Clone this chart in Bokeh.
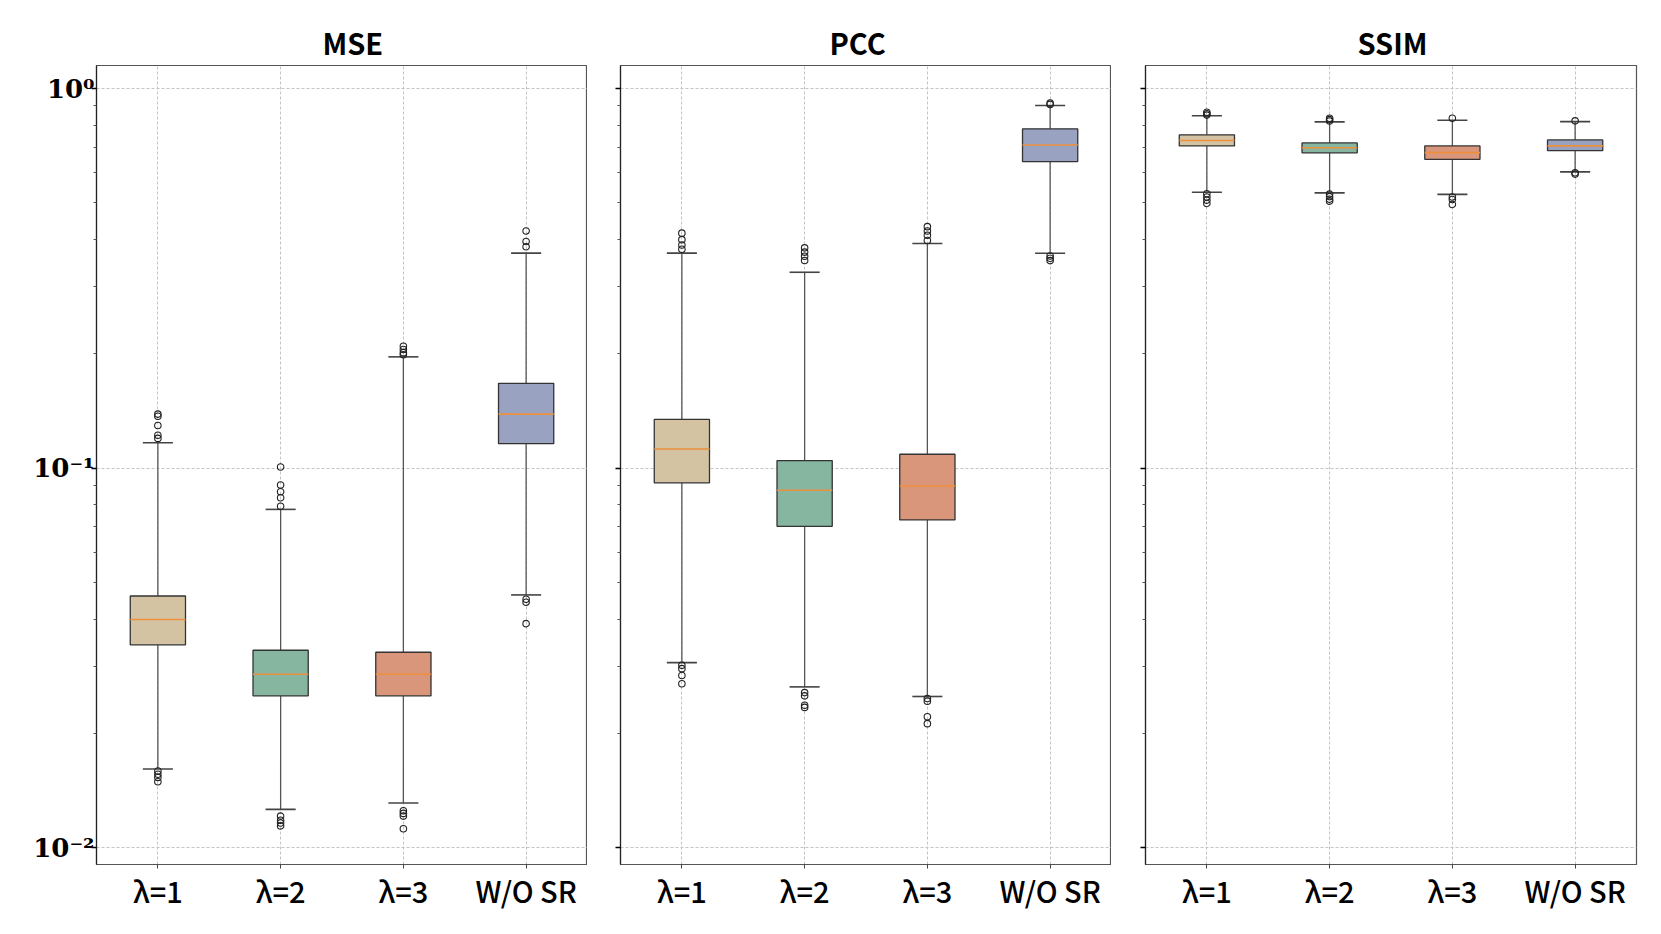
from bokeh.plotting import figure
from bokeh.layouts import row
from bokeh.models import Range1d, FixedTicker, CustomJSTickFormatter, ColumnDataSource
from bokeh.embed import file_html
from bokeh.resources import INLINE

# ---------------- data ----------------
categories = ["λ=1", "λ=2", "λ=3", "W/O SR"]
metrics = ["MSE", "PCC", "SSIM"]
box_colors = ["#d4c3a3", "#86b5a0", "#d9967a", "#99a2c0"]

y_major = [0.01, 0.1, 1.0]
y_minor = [0.02, 0.03, 0.04, 0.05, 0.06, 0.07, 0.08, 0.09,
           0.2, 0.3, 0.4, 0.5, 0.6, 0.7, 0.8, 0.9]

mse_q1 = [0.0342, 0.0251, 0.0251, 0.1159]
mse_med = [0.0399, 0.0286, 0.0286, 0.1387]
mse_q3 = [0.0460, 0.0331, 0.0327, 0.1672]
mse_lo = [0.0161, 0.0126, 0.0131, 0.0463]
mse_hi = [0.1166, 0.0778, 0.1963, 0.3683]
mse_out = [[0.1387, 0.1369, 0.1294, 0.1220, 0.1197, 0.0159, 0.0156, 0.0153, 0.0149],
           [0.1006, 0.0902, 0.0866, 0.0835, 0.0793, 0.0121, 0.0118, 0.0116, 0.0114],
           [0.2094, 0.2053, 0.2014, 0.1988, 0.0125, 0.0123, 0.0121, 0.0112],
           [0.4214, 0.3953, 0.3828, 0.0451, 0.0443, 0.0389]]

pcc_q1 = [0.0914, 0.0702, 0.0730, 0.642]
pcc_med = [0.1122, 0.0874, 0.0897, 0.710]
pcc_q3 = [0.1343, 0.1046, 0.1087, 0.783]
pcc_lo = [0.0307, 0.0265, 0.0250, 0.368]
pcc_hi = [0.3683, 0.3280, 0.3905, 0.902]
pcc_out = [[0.4158, 0.3998, 0.3870, 0.3770, 0.0302, 0.0296, 0.0284, 0.0270],
           [0.3804, 0.3707, 0.3613, 0.3521, 0.0256, 0.0251, 0.0237, 0.0234],
           [0.4325, 0.4214, 0.4106, 0.3976, 0.0247, 0.0243, 0.0221, 0.0212],
           [0.915, 0.908, 0.362, 0.357, 0.352]]

ssim_q1 = [0.706, 0.677, 0.651, 0.686]
ssim_med = [0.7295, 0.698, 0.678, 0.706]
ssim_q3 = [0.755, 0.719, 0.706, 0.732]
ssim_lo = [0.533, 0.531, 0.526, 0.603]
ssim_hi = [0.848, 0.817, 0.825, 0.818]
ssim_out = [[0.866, 0.858, 0.851, 0.528, 0.518, 0.508, 0.498],
            [0.835, 0.828, 0.821, 0.527, 0.519, 0.511, 0.505],
            [0.835, 0.518, 0.510, 0.495],
            [0.822, 0.600, 0.595]]

# ---------------- styling ----------------
BOX_W = 0.45
CAP_W = 0.245
GRID_COLOR = "#c4c4c4"
FRAME_W = 491
FRAME_H = 799
LABEL_FONT = "'Noto Sans CJK SC Medium', 'Noto Sans CJK SC'"

sup = CustomJSTickFormatter(code="""
const e = Math.round(Math.log10(tick));
const m = {'0':'\u2070','1':'\u00b9','2':'\u00b2','3':'\u00b3','-':'\u207b'};
return '10' + String(e).split('').map(c => m[c]).join('');
""")
blank = CustomJSTickFormatter(code="return '';")
cat_fmt = CustomJSTickFormatter(args=dict(labels=categories),
                                code="return labels[Math.round(tick) - 1];")


def make_panel(title, q1, med, q3, lo, hi, out, first, min_left, min_right, title_offset):
    p = figure(frame_width=FRAME_W, frame_height=FRAME_H,
               x_range=Range1d(0.5, 4.5), y_range=Range1d(0.00902, 1.15),
               y_axis_type="log", output_backend="svg", toolbar_location=None,
               min_border_left=min_left, min_border_right=min_right,
               min_border_top=65, min_border_bottom=48,
               background_fill_color="white", border_fill_color="white")
    p.title.text = title
    p.title.align = "left"
    p.title.offset = title_offset
    p.title.text_font = "Noto Sans CJK SC"
    p.title.text_font_size = "29px"
    p.title.text_font_style = "bold"
    p.title.text_color = "black"
    p.title.standoff = 6

    p.outline_line_color = "#555555"
    p.outline_line_width = 1.2

    pos = [i + 1 for i in range(len(categories))]
    src = ColumnDataSource(dict(
        x=pos, q1=q1, med=med, q3=q3, lo=lo, hi=hi, color=box_colors,
        xl=[x - BOX_W / 2 for x in pos], xr=[x + BOX_W / 2 for x in pos],
        cl=[x - CAP_W / 2 for x in pos], cr=[x + CAP_W / 2 for x in pos]))

    # whiskers
    p.segment(x0="x", x1="x", y0="q3", y1="hi", source=src, line_color="#555555", line_width=1.3)
    p.segment(x0="x", x1="x", y0="q1", y1="lo", source=src, line_color="#555555", line_width=1.3)
    # caps
    p.segment(x0="cl", x1="cr", y0="hi", y1="hi", source=src, line_color="#444444", line_width=1.6)
    p.segment(x0="cl", x1="cr", y0="lo", y1="lo", source=src, line_color="#444444", line_width=1.6)
    # boxes
    p.vbar(x="x", width=BOX_W, top="q3", bottom="q1", source=src,
           fill_color="color", line_color="#333333", line_width=1.3)
    # medians
    p.segment(x0="xl", x1="xr", y0="med", y1="med", source=src, line_color="#ee8f3d", line_width=1.6)
    # outliers
    ox, oy = [], []
    for i, vals in enumerate(out):
        for v in vals:
            ox.append(pos[i])
            oy.append(v)
    p.scatter(x=ox, y=oy, marker="circle", size=6.5, fill_color=None,
              line_color="#222222", line_width=1.1)

    # axes
    p.xaxis.ticker = FixedTicker(ticks=pos)
    p.xaxis.formatter = cat_fmt
    p.xaxis.major_label_text_font = LABEL_FONT
    p.xaxis.major_label_text_font_size = "29px"
    p.xaxis.major_label_text_color = "black"
    p.xaxis.major_label_standoff = 0
    p.xaxis.major_tick_out = 4
    p.xaxis.major_tick_in = 0
    p.xaxis.minor_tick_line_color = None
    p.xaxis.axis_line_color = "#555555"
    p.xaxis.major_tick_line_color = "#444444"

    p.yaxis.ticker = FixedTicker(ticks=y_major, minor_ticks=y_minor)
    p.yaxis.formatter = sup if first else blank
    p.yaxis.major_label_text_font = "DejaVu Serif"
    p.yaxis.major_label_text_font_style = "bold"
    p.yaxis.major_label_text_font_size = "26px"
    p.yaxis.major_label_text_color = "black"
    p.yaxis.major_label_standoff = -3
    p.yaxis.major_tick_out = 5
    p.yaxis.major_tick_in = 0
    p.yaxis.major_tick_line_width = 1.5
    p.yaxis.minor_tick_out = 3
    p.yaxis.minor_tick_in = 0
    p.yaxis.minor_tick_line_color = "#555555"
    p.yaxis.axis_line_color = "#222222"
    p.yaxis.axis_line_width = 1.2

    p.xgrid.grid_line_color = GRID_COLOR
    p.xgrid.grid_line_dash = "3 2"
    p.ygrid.grid_line_color = GRID_COLOR
    p.ygrid.grid_line_dash = "3 2"
    return p


p1 = make_panel(metrics[0], mse_q1, mse_med, mse_q3, mse_lo, mse_hi, mse_out, True, 96, 0, 226)
p2 = make_panel(metrics[1], pcc_q1, pcc_med, pcc_q3, pcc_lo, pcc_hi, pcc_out, False, 33, 0, 209)
p3 = make_panel(metrics[2], ssim_q1, ssim_med, ssim_q3, ssim_lo, ssim_hi, ssim_out, False, 34, 6, 212)

layout = row(p1, p2, p3)
open("out.html", "w").write(file_html(layout, INLINE))
